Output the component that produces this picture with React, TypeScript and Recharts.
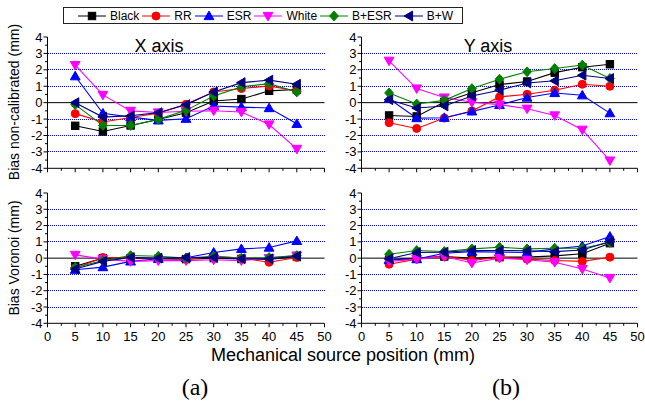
import React from 'react';
import { LineChart, Line, XAxis, YAxis, ReferenceLine } from 'recharts';

const positions = [5, 10, 15, 20, 25, 30, 35, 40, 45];
const xTicks = [0, 2.5, 5, 7.5, 10, 12.5, 15, 17.5, 20, 22.5, 25, 27.5, 30, 32.5, 35, 37.5, 40, 42.5, 45, 47.5, 50];
const yTicks = [-4, -3.5, -3, -2.5, -2, -1.5, -1, -0.5, 0, 0.5, 1, 1.5, 2, 2.5, 3, 3.5, 4];
const gridLevels = [-3, -2, -1, 1, 2, 3];

const seriesNames = ['Black', 'RR', 'ESR', 'White', 'B+ESR', 'B+W'];
const seriesColors = ['#000000', '#ff0000', '#0000ff', '#ff00ff', '#008000', '#000080'];
const seriesShapes = ['square', 'circle', 'up', 'down', 'diamond', 'left'];

// (a) X axis, non-calibrated
const xNcBlack = [-1.41, -1.76, -1.39, -1.03, -0.61, 0.1, 0.22, 0.72, 0.8];
const xNcRR = [-0.67, -1.18, -0.9, -0.65, -0.1, 0.65, 0.86, 1.02, 0.71];
const xNcESR = [1.61, -0.65, -0.88, -1.08, -0.98, -0.2, -0.27, -0.33, -1.29];
const xNcWhite = [2.29, 0.47, -0.5, -0.6, -0.52, -0.49, -0.57, -1.33, -2.82];
const xNcBESR = [-0.12, -1.39, -1.39, -1.02, -0.47, 0.41, 0.96, 1.16, 0.65];
const xNcBW = [0.0, -0.88, -0.8, -0.61, -0.12, 0.65, 1.22, 1.37, 1.12];

// (b) Y axis, non-calibrated
const yNcBlack = [-0.78, -0.84, 0.04, 0.6, 1.1, 1.29, 1.83, 2.16, 2.34];
const yNcRR = [-1.22, -1.57, -0.94, -0.51, 0.35, 0.51, 0.76, 1.12, 1.0];
const yNcESR = [0.24, -0.94, -0.92, -0.53, -0.14, 0.31, 0.59, 0.45, -0.64];
const yNcWhite = [2.55, 0.86, 0.31, 0.02, -0.12, -0.37, -0.78, -1.65, -3.53];
const yNcBESR = [0.59, -0.08, 0.14, 0.86, 1.43, 1.88, 2.08, 2.29, 1.47];
const yNcBW = [0.18, -0.33, -0.2, 0.4, 0.76, 1.2, 1.33, 1.67, 1.47];

// (a) X axis, Voronoi
const xVoBlack = [-0.5, 0.0, 0.0, -0.04, -0.06, 0.0, -0.05, -0.08, 0.1];
const xVoRR = [-0.6, 0.04, 0.04, -0.04, -0.06, 0.1, 0.0, -0.25, 0.04];
const xVoESR = [-0.71, -0.55, -0.2, -0.04, 0.02, 0.35, 0.57, 0.65, 1.06];
const xVoWhite = [0.2, -0.06, -0.2, -0.15, -0.15, -0.1, -0.15, 0.0, 0.16];
const xVoBESR = [-0.57, -0.14, 0.16, 0.12, 0.0, 0.12, 0.0, 0.04, 0.16];
const xVoBW = [-0.67, -0.2, 0.04, 0.0, 0.04, 0.04, -0.04, -0.04, 0.12];

// (b) Y axis, Voronoi
const yVoBlack = [-0.1, 0.0, 0.1, 0.0, 0.06, 0.06, 0.14, 0.27, 0.92];
const yVoRR = [-0.37, -0.06, 0.14, -0.14, 0.06, -0.06, -0.14, -0.2, 0.06];
const yVoESR = [-0.1, -0.06, 0.3, 0.4, 0.37, 0.35, 0.57, 0.75, 1.33];
const yVoWhite = [-0.2, -0.06, 0.1, -0.3, 0.0, -0.1, -0.25, -0.67, -1.22];
const yVoBESR = [0.24, 0.47, 0.41, 0.57, 0.67, 0.57, 0.61, 0.61, 0.96];
const yVoBW = [-0.04, 0.35, 0.37, 0.47, 0.47, 0.45, 0.4, 0.5, 1.02];

const FONT = '"Liberation Sans", Arial, sans-serif';

const buildRows = (series: number[][]) =>
  positions.map((p, i) => {
    const row: Record<string, number> = { pos: p };
    series.forEach((s, k) => {
      row[seriesNames[k]] = s[i];
    });
    return row;
  });

const rowsXNc = buildRows([xNcBlack, xNcRR, xNcESR, xNcWhite, xNcBESR, xNcBW]);
const rowsYNc = buildRows([yNcBlack, yNcRR, yNcESR, yNcWhite, yNcBESR, yNcBW]);
const rowsXVo = buildRows([xVoBlack, xVoRR, xVoESR, xVoWhite, xVoBESR, xVoBW]);
const rowsYVo = buildRows([yVoBlack, yVoRR, yVoESR, yVoWhite, yVoBESR, yVoBW]);

function Marker({ cx, cy, shape, color }: any) {
  if (cx == null || cy == null || isNaN(cx) || isNaN(cy)) return null;
  const s = 4.4;
  switch (shape) {
    case 'square':
      return <rect x={cx - 3.7} y={cy - 3.7} width={7.4} height={7.4} fill={color} stroke={color} />;
    case 'circle':
      return <circle cx={cx} cy={cy} r={4} fill={color} stroke={color} />;
    case 'up':
      return <polygon points={`${cx},${cy - s - 0.5} ${cx - s - 0.5},${cy + s - 0.8} ${cx + s + 0.5},${cy + s - 0.8}`} fill={color} stroke={color} />;
    case 'down':
      return <polygon points={`${cx},${cy + s + 0.5} ${cx - s - 0.5},${cy - s + 0.8} ${cx + s + 0.5},${cy - s + 0.8}`} fill={color} stroke={color} />;
    case 'diamond':
      return <polygon points={`${cx},${cy - s - 0.5} ${cx + s},${cy} ${cx},${cy + s + 0.5} ${cx - s},${cy}`} fill={color} stroke={color} />;
    case 'left':
      return <polygon points={`${cx - s - 0.5},${cy} ${cx + s - 0.8},${cy - s - 0.5} ${cx + s - 0.8},${cy + s + 0.5}`} fill={color} stroke={color} />;
    default:
      return null;
  }
}

function YTick(props: any) {
  const { x, y, payload } = props;
  const v = payload.value;
  const major = Number.isInteger(v);
  return (
    <g>
      <line x1={x} x2={x - (major ? 4 : 2.5)} y1={y} y2={y} stroke="#000" />
      {major && (
        <text x={x - 5} y={y + 4.6} textAnchor="end" fontSize={13} fontFamily={FONT} fill="#000">
          {v}
        </text>
      )}
    </g>
  );
}

function XTick(props: any) {
  const { x, y, payload, showLabel } = props;
  const v = payload.value;
  const major = v % 5 === 0;
  return (
    <g>
      <line x1={x} x2={x} y1={y} y2={y + (major ? 4 : 2.5)} stroke="#000" />
      {showLabel && major && (
        <text x={x} y={y + 18} textAnchor="middle" fontSize={13} fontFamily={FONT} fill="#000">
          {v}
        </text>
      )}
    </g>
  );
}

function Panel({ rows, left, top, width, height, bottom, showLabels }: any) {
  return (
    <div style={{ position: 'absolute', left, top }}>
      <LineChart width={width} height={height} data={rows} margin={{ top: 37, right: 10.5, left: 17.5, bottom }}>
        <XAxis
          dataKey="pos"
          type="number"
          domain={[0, 50]}
          ticks={xTicks}
          interval={0}
          tickSize={0}
          tickMargin={0}
          tickLine={false}
          axisLine={{ stroke: '#000' }}
          height={showLabels ? 25 : 10}
          tick={(p: any) => <XTick {...p} showLabel={showLabels} />}
        />
        <YAxis
          type="number"
          domain={[-4, 4]}
          ticks={yTicks}
          interval={0}
          width={30}
          tickSize={0}
          tickMargin={0}
          tickLine={false}
          axisLine={{ stroke: '#000' }}
          tick={(p: any) => <YTick {...p} />}
        />
        {gridLevels.map((v) => (
          <ReferenceLine key={v} y={v} stroke="#0000ff" strokeDasharray="1 1" shapeRendering="crispEdges" />
        ))}
        <ReferenceLine y={0} stroke="#000" />
        {seriesNames.map((n, k) => (
          <Line
            key={n}
            type="linear"
            dataKey={n}
            stroke={seriesColors[k]}
            strokeWidth={1.1}
            isAnimationActive={false}
            dot={(p: any) => (
              <Marker key={`${n}-${p.index}`} cx={p.cx} cy={p.cy} shape={seriesShapes[k]} color={seriesColors[k]} />
            )}
            activeDot={false}
          />
        ))}
      </LineChart>
    </div>
  );
}

function LegendBox() {
  return (
    <div
      style={{
        position: 'absolute',
        left: 63,
        top: 7,
        width: 384,
        height: 15,
        border: '1px solid #222',
        display: 'flex',
        alignItems: 'center',
        paddingLeft: 14,
        boxSizing: 'content-box',
        fontFamily: FONT,
        fontSize: 12,
        background: '#fff',
      }}
    >
      {seriesNames.map((n, k) => (
        <div key={n} style={{ display: 'flex', alignItems: 'center' }}>
          <svg width={28} height={14} style={{ display: 'block' }}>
            <line x1={0} x2={28} y1={7} y2={7} stroke={seriesColors[k]} strokeWidth={1} />
            <Marker cx={14} cy={7} shape={seriesShapes[k]} color={seriesColors[k]} />
          </svg>
          <span style={{ marginLeft: 4, marginRight: 3, lineHeight: '14px' }}>{n}</span>
        </div>
      ))}
    </div>
  );
}

export default function App() {
  return (
    <div style={{ position: 'absolute', left: 0, top: 0, width: 645, height: 409, background: '#fff', overflow: 'hidden' }}>
      <Panel rows={rowsXNc} left={0} top={0} width={335} height={180} bottom={1.7} showLabels={false} />
      <Panel rows={rowsYNc} left={314} top={0} width={334} height={180} bottom={1.7} showLabels={false} />
      <Panel rows={rowsXVo} left={0} top={156} width={335} height={194} bottom={1.7} showLabels={true} />
      <Panel rows={rowsYVo} left={314} top={156} width={334} height={194} bottom={1.7} showLabels={true} />
      <svg width={645} height={409} style={{ position: 'absolute', left: 0, top: 0, pointerEvents: 'none' }}>
        <text x={159} y={52} textAnchor="middle" fontSize={18} fontFamily={FONT}>X axis</text>
        <text x={488} y={52} textAnchor="middle" fontSize={18} fontFamily={FONT}>Y axis</text>
        <text x={19} y={102} textAnchor="middle" fontSize={14} fontFamily={FONT} transform="rotate(-90 19 102)">
          Bias non-calibrated (mm)
        </text>
        <text x={19} y={258} textAnchor="middle" fontSize={14} fontFamily={FONT} transform="rotate(-90 19 258)">
          Bias Voronoi (mm)
        </text>
        <text x={343} y={361} textAnchor="middle" fontSize={18} fontFamily={FONT}>Mechanical source position (mm)</text>
        <text x={195} y={395} textAnchor="middle" fontSize={24} fontFamily='"Liberation Serif", "Times New Roman", serif'>(a)</text>
        <text x={506} y={395} textAnchor="middle" fontSize={24} fontFamily='"Liberation Serif", "Times New Roman", serif'>(b)</text>
      </svg>
      <LegendBox />
    </div>
  );
}
